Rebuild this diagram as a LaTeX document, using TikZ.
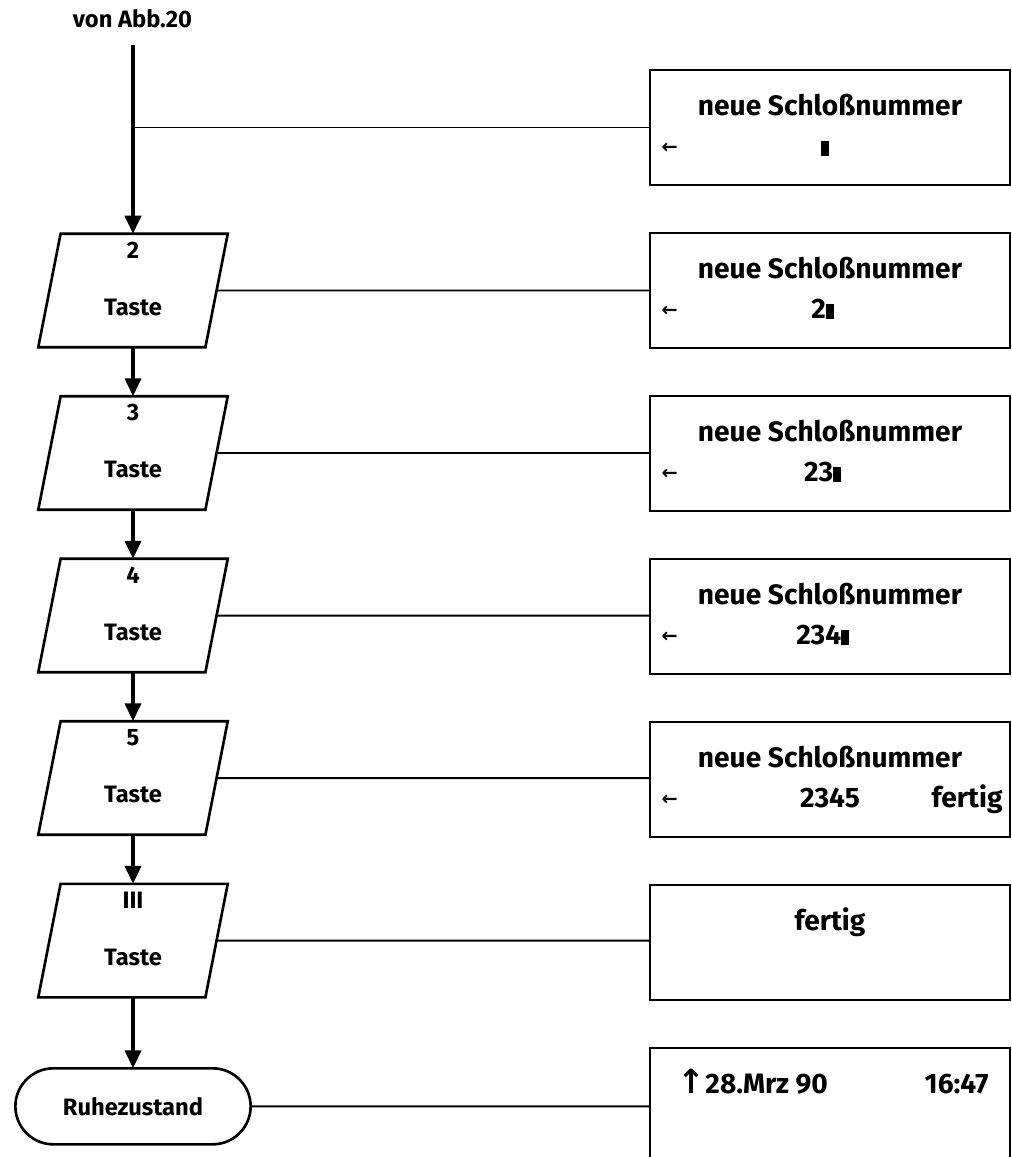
\documentclass[tikz,border=0pt]{standalone}
\usepackage{fontspec}
\setmainfont{Fira Sans}
\newfontfamily\arrowfont{DejaVu Sans}
\usetikzlibrary{positioning, arrows.meta, shapes.geometric, shapes.misc}

\newcommand{\curs}{\rule{0.15cm}{0.3cm}}
\newcommand{\backkey}{\hspace{0.08cm}\raisebox{0.04cm}{\arrowfont\fontsize{11pt}{11pt}\bfseries\selectfont ←}}
\newcommand{\disprow}[3]{\makebox[6.9cm]{\rlap{#1}\hfill#2\hfill\llap{#3}}}

\begin{document}
\begin{tikzpicture}[
    key/.style={trapezium, trapezium left angle=80, trapezium right angle=100,
      trapezium stretches=true, draw, line width=1.5pt,
      minimum width=3.8cm, minimum height=2.27cm, outer sep=0pt,
      text height=0.98cm, text depth=0pt,
      font=\fontsize{13.5pt}{16pt}\selectfont\bfseries},
    digit/.style={anchor=north, inner sep=0pt, yshift=-0.16cm,
      font=\fontsize{13.5pt}{16pt}\selectfont\bfseries},
    display/.style={rectangle, draw, line width=1.6pt,
      minimum width=7.2cm, minimum height=2.3cm, outer sep=0pt, inner sep=0pt,
      align=center, font=\fontsize{16pt}{0.8cm}\selectfont\bfseries},
    idle/.style={rounded rectangle, draw, line width=1.5pt,
      minimum width=4.94cm, minimum height=1.52cm, outer sep=0pt,
      font=\fontsize{13.5pt}{16pt}\selectfont\bfseries},
    flow/.style={line width=2.2pt, -{Triangle[width=0.32cm, length=0.36cm]}},
    link/.style={line width=1.1pt},
    node distance=0.98cm,
  ]
    \useasboundingbox (0,0) rectangle (20.24,-23.14);
    \clip (0,0) rectangle (20.24,-23.14);

    % left column: keys
    \node[font=\fontsize{13.5pt}{16pt}\selectfont\bfseries] (src) at (2.65,-0.38) {von Abb.20};
    \coordinate (top) at (2.66,-0.9);
    \node[key, label={[digit]90:2}] (k1) at (2.66,-5.81) {Taste};
    \node[key, below=of k1, label={[digit]90:3}] (k2) {Taste};
    \node[key, below=of k2, label={[digit]90:4}] (k3) {Taste};
    \node[key, below=of k3, label={[digit]90:5}] (k4) {Taste};
    \node[key, below=of k4, label={[digit]90:III}] (k5) {Taste};
    \node[idle, below=1.42cm of k5] (rest) {Ruhezustand};

    % right column: display contents
    \node[display] (d1) at (16.6,-2.55)
      {\strut neue Schloßnummer\\\strut\disprow{\backkey}{\curs\hspace{0.2cm}}{}};
    \node[display, below=0.96cm of d1] (d2)
      {\strut neue Schloßnummer\\\strut\disprow{\backkey}{2\curs\hspace{0.3cm}}{}};
    \node[display, below=0.96cm of d2] (d3)
      {\strut neue Schloßnummer\\\strut\disprow{\backkey}{23\curs\hspace{0.3cm}}{}};
    \node[display, below=0.96cm of d3] (d4)
      {\strut neue Schloßnummer\\\strut\disprow{\backkey}{234\curs\hspace{0.3cm}}{}};
    \node[display, below=0.96cm of d4] (d5)
      {\strut neue Schloßnummer\\\strut\disprow{\backkey}{2345}{fertig}};
    \node[display, below=0.96cm of d5] (d6)
      {\strut fertig\\\strut};
    \node[display, below=0.96cm of d6] (d7)
      {\strut\disprow{\hspace{0.4cm}{\arrowfont\fontsize{19pt}{19pt}\selectfont ↑}28.Mrz 90}{}{16:47\hspace{0.28cm}}\\\strut};

    % flow
    \draw[flow] (top) -- (k1);
    \draw[flow] (k1) -- (k2);
    \draw[flow] (k2) -- (k3);
    \draw[flow] (k3) -- (k4);
    \draw[flow] (k4) -- (k5);
    \draw[flow] (k5) -- (rest);

    % links to the display
    \draw[link] (top |- d1) -- (d1);
    \draw[link] (k1) -- (k1 -| d2.west);
    \draw[link] (k2) -- (k2 -| d3.west);
    \draw[link] (k3) -- (k3 -| d4.west);
    \draw[link] (k4) -- (k4 -| d5.west);
    \draw[link] (k5) -- (k5 -| d6.west);
    \draw[link] (rest) -- (rest -| d7.west);
  \end{tikzpicture}
\end{document}
